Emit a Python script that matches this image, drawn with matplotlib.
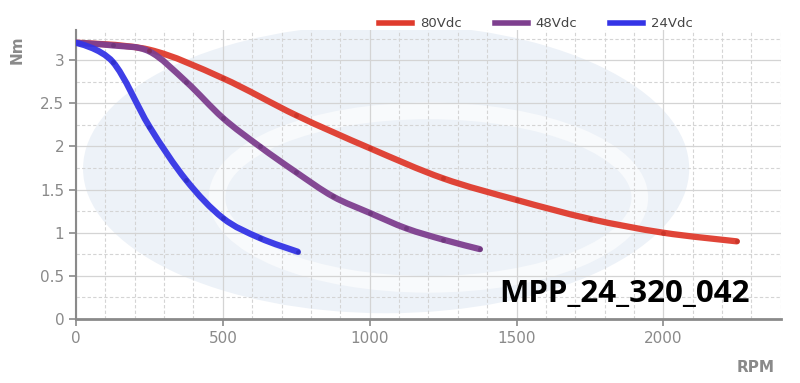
import matplotlib.pyplot as plt
from matplotlib.patches import Ellipse, PathPatch
from matplotlib.path import Path
from matplotlib.lines import Line2D
from matplotlib.ticker import MultipleLocator

# torque curves (RPM, Nm)
rpm_80 = [0, 250, 500, 750, 1000, 1250, 1500, 1750, 2000, 2250]
nm_80 = [3.2, 3.12, 2.79, 2.36, 1.98, 1.63, 1.38, 1.16, 1.0, 0.9]
rpm_48 = [0, 125, 250, 375, 500, 625, 750, 875, 1000, 1125, 1250, 1375]
nm_48 = [3.2, 3.17, 3.1, 2.75, 2.33, 2.0, 1.7, 1.42, 1.23, 1.05, 0.92, 0.81]
rpm_24 = [0, 125, 250, 375, 500, 625, 755]
nm_24 = [3.2, 2.98, 2.23, 1.61, 1.17, 0.94, 0.78]

series = [("80Vdc", rpm_80, nm_80, "#df3b2d", "#b8281e"),
          ("48Vdc", rpm_48, nm_48, "#7e3f8f", "#5e2a6c"),
          ("24Vdc", rpm_24, nm_24, "#3434e6", "#2222b0")]


def spline_path(x, y):
    # smooth curve through the points (cubic bezier segments, like a spline chart)
    n = len(x)
    mx, my = [0.0] * n, [0.0] * n
    for i in range(1, n - 1):
        mx[i] = (x[i + 1] - x[i - 1]) / 2
        my[i] = (y[i + 1] - y[i - 1]) / 2
    mx[-1] = (x[-1] - x[-2]) / 2
    my[-1] = (y[-1] - y[-2]) / 2
    verts = [(x[0], y[0])]
    codes = [Path.MOVETO]
    for i in range(n - 1):
        verts += [(x[i] + mx[i] / 3, y[i] + my[i] / 3),
                  (x[i + 1] - mx[i + 1] / 3, y[i + 1] - my[i + 1] / 3),
                  (x[i + 1], y[i + 1])]
        codes += [Path.CURVE4] * 3
    return Path(verts, codes)


fig = plt.figure(figsize=(8, 3.83), dpi=100)
ax = fig.add_axes([0.095, 0.167, 0.881, 0.755])

# faint watermark logo behind the plot
ax.add_patch(Ellipse((0.44, 0.52), 0.86, 1.0, transform=ax.transAxes,
                     facecolor="#edf2f8", edgecolor="none", zorder=0))
ax.add_patch(Ellipse((0.5, 0.42), 0.6, 0.6, transform=ax.transAxes,
                     facecolor="none", edgecolor="#f8fafc", lw=12, zorder=0))

handles = []
for label, x, y, color, dark in series:
    ax.add_patch(PathPatch(spline_path(x, y), facecolor="none", edgecolor=color, lw=4.5,
                           capstyle="round", joinstyle="round", alpha=0.95, zorder=3))
    ax.plot(x[1:], y[1:], "o", ms=3.5, color=dark, alpha=0.5, mew=0, zorder=4)
    handles.append(Line2D([], [], color=color, lw=4, label=label))

ax.set_xlim(0, 2400)
ax.set_ylim(0, 3.35)
ax.xaxis.set_major_locator(MultipleLocator(500))
ax.xaxis.set_minor_locator(MultipleLocator(100))
ax.yaxis.set_major_locator(MultipleLocator(0.5))
ax.yaxis.set_minor_locator(MultipleLocator(0.25))
ax.grid(True, which="major", color="#d4d4d4", lw=0.9, zorder=1)
ax.grid(True, which="minor", color="#d4d4d4", lw=0.8, ls=(0, (3, 2)), zorder=1)
ax.set_yticks([0, 0.5, 1, 1.5, 2, 2.5, 3])
ax.set_yticklabels(["0", "0.5", "1", "1.5", "2", "2.5", "3"])

for side in ["top", "right"]:
    ax.spines[side].set_visible(False)
ax.spines["left"].set_color("#8a8a8a")
ax.spines["left"].set_linewidth(1.5)
ax.spines["bottom"].set_color("#8a8a8a")
ax.spines["bottom"].set_linewidth(2)
ax.tick_params(which="major", colors="#8a8a8a", labelcolor="#8a8a8a", labelsize=11, length=5, width=1.2)
ax.tick_params(which="minor", length=0)

fig.text(0.022, 0.87, "Nm", rotation=90, color="#8a8a8a", fontsize=11, fontweight="bold", ha="center", va="center")
fig.text(0.944, 0.04, "RPM", color="#8a8a8a", fontsize=11, fontweight="bold", ha="center", va="center")

ax.text(0.956, 0.088, "MPP_24_320_042", transform=ax.transAxes, fontsize=22.5, fontweight="bold",
        family="Open Sans", color="black", ha="right", va="center", zorder=5)

leg = ax.legend(handles=handles, loc="lower right", bbox_to_anchor=(0.883, 0.98), ncol=3, frameon=False,
                fontsize=9.5, handlelength=2.5, handletextpad=0.6, columnspacing=2.5, borderaxespad=0)
for t in leg.get_texts():
    t.set_color("#444444")

fig.savefig("out.png", dpi=100)
